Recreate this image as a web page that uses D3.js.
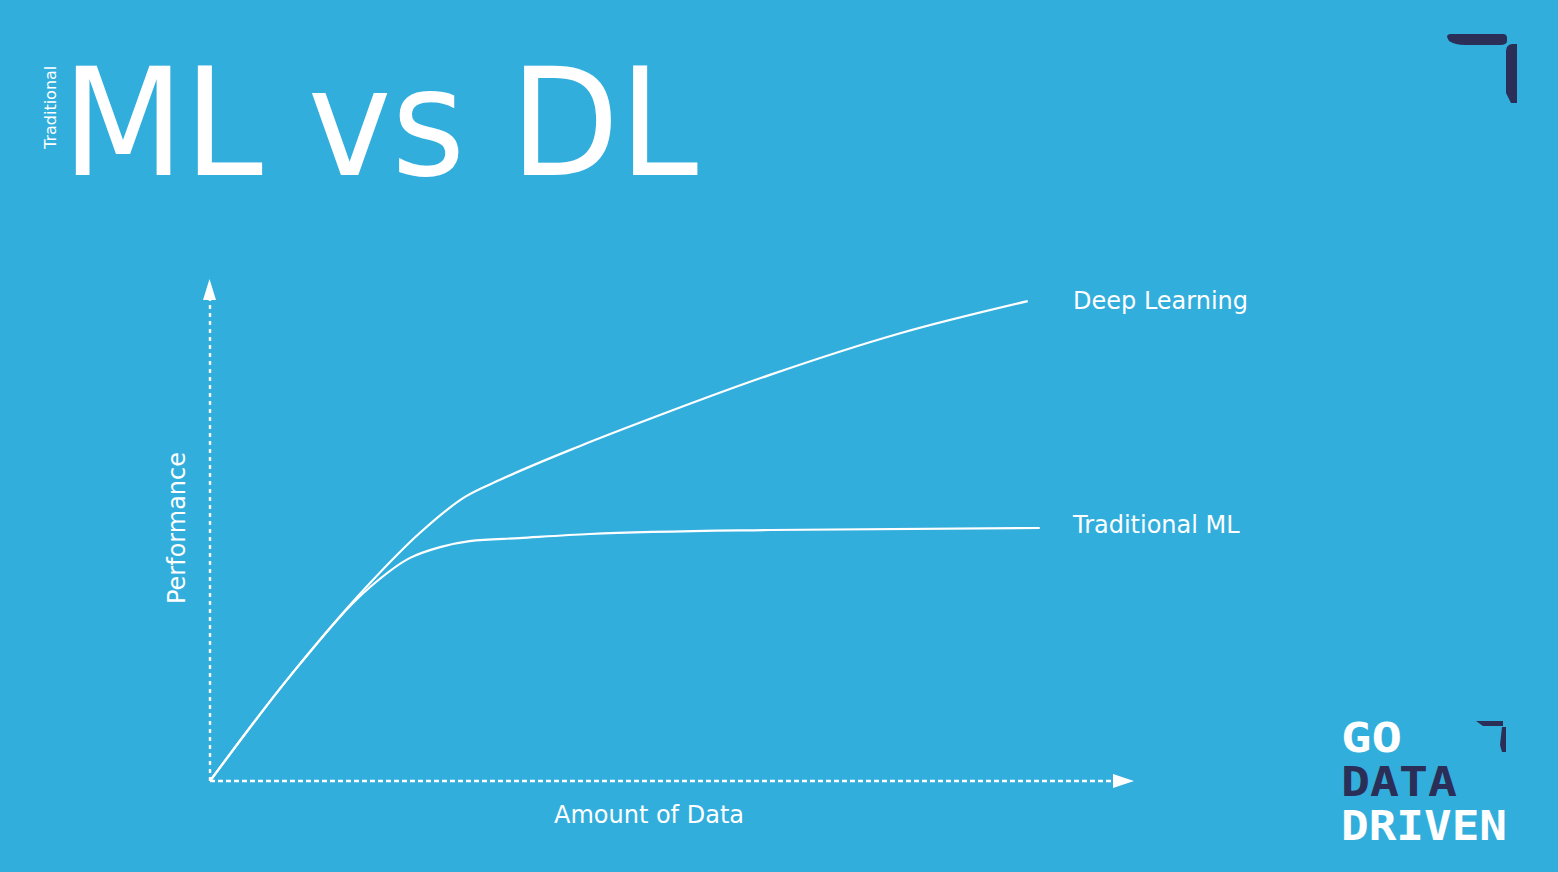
<!DOCTYPE html>
<html><head><meta charset="utf-8">
<script src="https://cdn.jsdelivr.net/npm/d3@7"></script>
<style>html,body{margin:0;padding:0;background:#32AEDD;}svg{display:block;}</style>
</head><body>
<svg id="c" width="1558" height="872"></svg>
<script>
const title = "ML vs DL";
const titlePrefix = "Traditional";
const xAxisLabel = "Amount of Data";
const yAxisLabel = "Performance";
const seriesNames = ["Deep Learning", "Traditional ML"];
const dlX = [0, 8.66, 17.3, 22.7, 27.6, 31.4, 40.0, 48.7, 60.6, 74.7, 88.5];
const dlY = [0, 20.9, 39.4, 49.4, 56.6, 60.0, 66.7, 72.9, 80.9, 89.2, 95.6];
const mlX = [0, 8.66, 17.3, 21.6, 24.9, 28.1, 33.5, 41.1, 60.6, 89.8];
const mlY = [0, 20.9, 38.6, 44.4, 46.6, 47.8, 48.4, 49.2, 50.0, 50.4];
const logoLines = ["GO", "DATA", "DRIVEN"];

const svg = d3.select("#c");
const W = 1558, H = 872;
svg.append("rect").attr("width", W).attr("height", H).attr("fill", "#32AEDD");
const navy = "#2B2F57";
const font = "DejaVu Sans, sans-serif";

const x = d3.scaleLinear().domain([0, 100]).range([210, 1134]);
const y = d3.scaleLinear().domain([0, 100]).range([781, 279]);

// axes
const g = svg.append("g");
g.append("line").attr("x1", x(0)).attr("y1", y(0)).attr("x2", x(0)).attr("y2", y(96))
  .attr("stroke", "#fff").attr("stroke-width", 2.4).attr("stroke-dasharray", "4,4");
g.append("line").attr("x1", x(0)).attr("y1", y(0)).attr("x2", x(97.8)).attr("y2", y(0))
  .attr("stroke", "#fff").attr("stroke-width", 2.6).attr("stroke-dasharray", "5,3");
g.append("path").attr("d", `M${x(0)-0.5},${y(100)} L${x(0)-7},${y(100)+21} L${x(0)+6},${y(100)+21}Z`).attr("fill", "#fff");
g.append("path").attr("d", `M${x(100)},${y(0)} L${x(100)-21},${y(0)-7} L${x(100)-21},${y(0)+7}Z`).attr("fill", "#fff");

const line = d3.line().x(d => x(d[0])).y(d => y(d[1])).curve(d3.curveMonotoneX);
const dl = dlX.map((v, i) => [v, dlY[i]]);
const ml = mlX.map((v, i) => [v, mlY[i]]);
[dl, ml].forEach(s => g.append("path").attr("d", line(s)).attr("fill", "none")
  .attr("stroke", "#fff").attr("stroke-width", 2.2));

g.append("text").attr("x", 1073).attr("y", y(dlY[dlY.length-1]) + 8).text(seriesNames[0])
  .attr("fill", "#fff").attr("font-family", font).attr("font-size", 24);
g.append("text").attr("x", 1073).attr("y", y(mlY[mlY.length-1]) + 5).text(seriesNames[1])
  .attr("fill", "#fff").attr("font-family", font).attr("font-size", 24);

g.append("text").attr("x", 649).attr("y", 823).attr("text-anchor", "middle").text(xAxisLabel)
  .attr("fill", "#fff").attr("font-family", font).attr("font-size", 24);
g.append("text").attr("transform", "translate(185,528) rotate(-90)").attr("text-anchor", "middle").text(yAxisLabel)
  .attr("fill", "#fff").attr("font-family", font).attr("font-size", 24);

// title
svg.append("text").attr("x", 62).attr("y", 175).text(title).attr("fill", "#fff")
  .attr("font-family", font).attr("font-size", 150)
  .attr("textLength", 636).attr("lengthAdjust", "spacingAndGlyphs");
svg.append("text").attr("transform", "translate(56,149) rotate(-90)").text(titlePrefix)
  .attr("fill", "#fff").attr("font-family", font).attr("font-size", 16);

// corner bracket top-right
svg.append("path").attr("d", "M1447,37 Q1447,34 1451,34 L1503,34 Q1507,34 1507,38 L1507,41 Q1507,45 1500,45 L1465,45 Q1455,45 1449,41 Z").attr("fill", navy);
svg.append("path").attr("d", "M1512,44 L1517,44 L1517,103 L1511,103 L1506,93 L1506,51 Q1506,45 1512,44 Z").attr("fill", navy);

// logo
const logoColors = ["#fff", navy, "#fff"];
const logoY = [752, 796, 840];
const logoW = [61, 116, 166];
logoLines.forEach((t, i) => {
  svg.append("text").attr("x", 1341).attr("y", logoY[i]).text(t)
    .attr("fill", logoColors[i]).attr("font-family", "DejaVu Sans Mono, monospace")
    .attr("font-weight", "bold")
    .attr("font-size", 41).attr("textLength", logoW[i]).attr("lengthAdjust", "spacingAndGlyphs");
});
svg.append("path").attr("d", "M1476,721 L1503,721 L1503,726 L1483,726 Z").attr("fill", navy);
svg.append("path").attr("d", "M1502,727 L1506,727 L1506,752 L1502,752 L1500,745 Z").attr("fill", navy);
</script>
</body></html>
